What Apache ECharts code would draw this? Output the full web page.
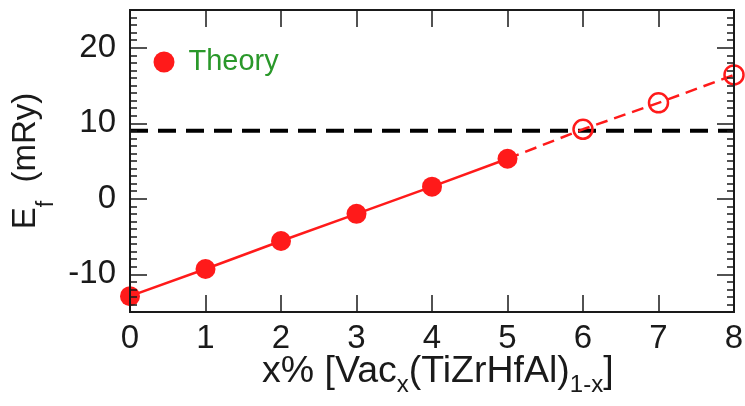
<!DOCTYPE html>
<html>
<head>
<meta charset="utf-8">
<script src="https://cdn.jsdelivr.net/npm/echarts@6/dist/echarts.min.js"></script>
<style>
  html, body { margin: 0; padding: 0; background: #fff; }
  #chart { width: 745px; height: 406px; }
</style>
</head>
<body>
<div id="chart"></div>
<script>
// Computed formation energies (mRy) at vacancy fractions x = 0..5 %
const theoryX = [0, 1, 2, 3, 4, 5];
const theoryEf = [-12.9, -9.3, -5.6, -2.0, 1.6, 5.3];
// Linear extension of the same trend to x = 6..8 %
const extrapX = [5, 6, 7, 8];
const extrapEf = [5.3, 9.2, 12.7, 16.4];
// Horizontal reference level
const thresholdX = [0, 8];
const thresholdEf = 9.0;
// Axis ranges and labelled ticks
const xRange = [0, 8];
const yRange = [-15, 25];
const yMajorTicks = [-10, 0, 10, 20];

const RED = '#ff1a1a';
const INK = '#1a1a1a';
const FONT = 'Liberation Sans';

const zip = (xs, ys) => xs.map((x, i) => [x, ys[i]]);

const frameLine = { show: true, onZero: false, lineStyle: { color: INK, width: 2 } };

const baseX = {
  type: 'value', min: xRange[0], max: xRange[1], interval: 1,
  z: 10, splitLine: { show: false },
  axisLine: frameLine,
  axisTick: { show: true, inside: true, length: 17, lineStyle: { color: INK, width: 1.5 } }
};
const baseY = {
  type: 'value', min: yRange[0], max: yRange[1],
  z: 10, splitLine: { show: false },
  axisLine: frameLine
};

const chart = echarts.init(document.getElementById('chart'), null, { renderer: 'canvas' });
chart.setOption({
  animation: false,
  backgroundColor: '#fff',
  grid: { left: 130, right: 11, top: 10, bottom: 94, containLabel: false, outerBoundsMode: 'none' },
  legend: {
    data: ['Theory'],
    left: 153.5, top: 47.5, padding: 0,
    icon: 'circle', itemWidth: 21, itemHeight: 21,
    selectedMode: false,
    textStyle: { color: '#2a982a', fontSize: 29, fontFamily: FONT, padding: [0, 0, 0, 9] }
  },
  // x-axis title with subscripts
  graphic: [{
    type: 'text',
    left: 262, top: 353,
    z: 10,
    style: {
      text: '{m|x% [Vac}{s|x}{m|(TiZrHfAl)}{s|1-x}{m|]}',
      rich: {
        m: { fontSize: 37.5, lineHeight: 44, verticalAlign: 'top', fill: INK, fontFamily: FONT },
        s: { fontSize: 24, lineHeight: 44, verticalAlign: 'bottom', fill: INK, fontFamily: FONT }
      }
    }
  }],
  xAxis: [
    Object.assign({}, baseX, {
      position: 'bottom',
      axisLabel: { show: true, margin: 10, fontSize: 33, color: INK, fontFamily: FONT }
    }),
    Object.assign({}, baseX, { position: 'top', axisLabel: { show: false } })
  ],
  yAxis: [
    // left: labelled major ticks
    Object.assign({}, baseY, {
      position: 'left',
      axisTick: { show: true, inside: true, length: 17, customValues: yMajorTicks,
        lineStyle: { color: INK, width: 1.5 } },
      axisLabel: { show: true, customValues: yMajorTicks, margin: 14, fontSize: 33,
        color: INK, fontFamily: FONT, padding: [8, 0, 0, 0] },
      name: '{m|E}{f|f}{m|  (mRy)}',
      nameLocation: 'middle',
      nameRotate: 90,
      nameGap: 71.5,
      nameMoveOverlap: false,
      nameTextStyle: {
        rich: {
          m: { fontSize: 33, lineHeight: 49.5, verticalAlign: 'top', color: INK, fontFamily: FONT },
          f: { fontSize: 23, lineHeight: 49.5, verticalAlign: 'bottom', color: INK, fontFamily: FONT }
        }
      }
    }),
    // left: unit minor ticks
    Object.assign({}, baseY, {
      position: 'left', interval: 1,
      axisTick: { show: true, inside: true, length: 7, lineStyle: { color: INK, width: 1.5 } },
      axisLabel: { show: false }
    }),
    // right: mirrored major ticks
    Object.assign({}, baseY, {
      position: 'right',
      axisTick: { show: true, inside: true, length: 17, customValues: yMajorTicks,
        lineStyle: { color: INK, width: 1.5 } },
      axisLabel: { show: false }
    }),
    // right: mirrored minor ticks
    Object.assign({}, baseY, {
      position: 'right', interval: 1,
      axisTick: { show: true, inside: true, length: 7, lineStyle: { color: INK, width: 1.5 } },
      axisLabel: { show: false }
    })
  ],
  series: [
    {
      name: 'Reference level',
      type: 'line',
      data: zip(thresholdX, [thresholdEf, thresholdEf]),
      symbol: 'none',
      lineStyle: { color: '#000', width: 4, type: [18, 10] },
      z: 1, silent: true
    },
    {
      name: 'Extrapolation',
      type: 'line',
      data: zip(extrapX, extrapEf).map((p, i) => i === 0
        ? { value: p, symbol: 'none' }
        : { value: p }),
      symbol: 'circle',
      symbolSize: 19,
      itemStyle: { color: 'rgba(0,0,0,0)', borderColor: RED, borderWidth: 2.5 },
      lineStyle: { color: RED, width: 2.5, type: [12, 7] },
      clip: false, z: 2
    },
    {
      name: 'Theory',
      type: 'line',
      data: zip(theoryX, theoryEf),
      symbol: 'circle',
      symbolSize: 20,
      itemStyle: { color: RED },
      lineStyle: { color: RED, width: 2.5 },
      clip: false, z: 3
    }
  ]
});
</script>
</body>
</html>
